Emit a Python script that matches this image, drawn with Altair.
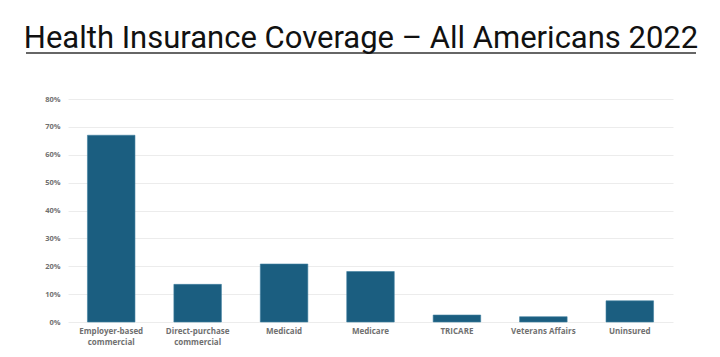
import altair as alt
import pandas as pd

categories = ["Employer-based commercial", "Direct-purchase commercial", "Medicaid",
              "Medicare", "TRICARE", "Veterans Affairs", "Uninsured"]
values = [0.67, 0.135, 0.208, 0.181, 0.025, 0.019, 0.076]
y_ticks = [0, 0.1, 0.2, 0.3, 0.4, 0.5, 0.6, 0.7, 0.8]
title_text = "Health Insurance Coverage \u2013 All Americans 2022"

df = pd.DataFrame({"cat": categories, "val": values})

label_expr = ("datum.label == 'Employer-based commercial' ? ['Employer-based','commercial'] : "
              "datum.label == 'Direct-purchase commercial' ? ['Direct-purchase','commercial'] : datum.label")

bars = alt.Chart(df).mark_bar(color="#1B5E80", stroke="#3F7FA0", strokeWidth=0.6).encode(
    x=alt.X("cat:N", sort=categories, title=None,
            scale=alt.Scale(paddingInner=0.45, paddingOuter=0.225),
            axis=alt.Axis(labelAngle=0, labelExpr=label_expr,
                          labelFont="Open Sans", labelFontSize=8, labelFontWeight="bold",
                          labelColor="#707070", labelLineHeight=11, labelPadding=5,
                          domain=False, ticks=False, grid=False)),
    y=alt.Y("val:Q", title=None,
            scale=alt.Scale(domain=[0, 0.8], nice=False),
            axis=alt.Axis(values=y_ticks, format=".0%", labelFont="Open Sans", labelFontSize=7.5,
                          labelFontWeight="bold", labelColor="#707070", labelPadding=8,
                          domain=False, ticks=False, grid=True, gridColor="#ececec",
                          gridWidth=1)),
)

title = alt.Chart(pd.DataFrame({"t": [title_text]})).mark_text(
    font="Roboto", fontSize=31, color="#111111", align="center", baseline="alphabetic"
).encode(text="t:N", x=alt.value(293), y=alt.value(-51))

underline = alt.Chart(pd.DataFrame({"t": [title_text]})).mark_rule(
    color="#333333", strokeWidth=1.5
).encode(x=alt.value(-42), x2=alt.value(628), y=alt.value(-46))

chart = alt.layer(bars, underline, title).properties(
    width=605, height=223,
    padding={"left": 60, "top": 91, "right": 30, "bottom": 26},
    autosize=alt.AutoSizeParams(type="none"),
).configure(background="white").configure_view(strokeWidth=0, stroke=None)

chart.save("out.html", embed_options={"renderer": "svg", "actions": False})
